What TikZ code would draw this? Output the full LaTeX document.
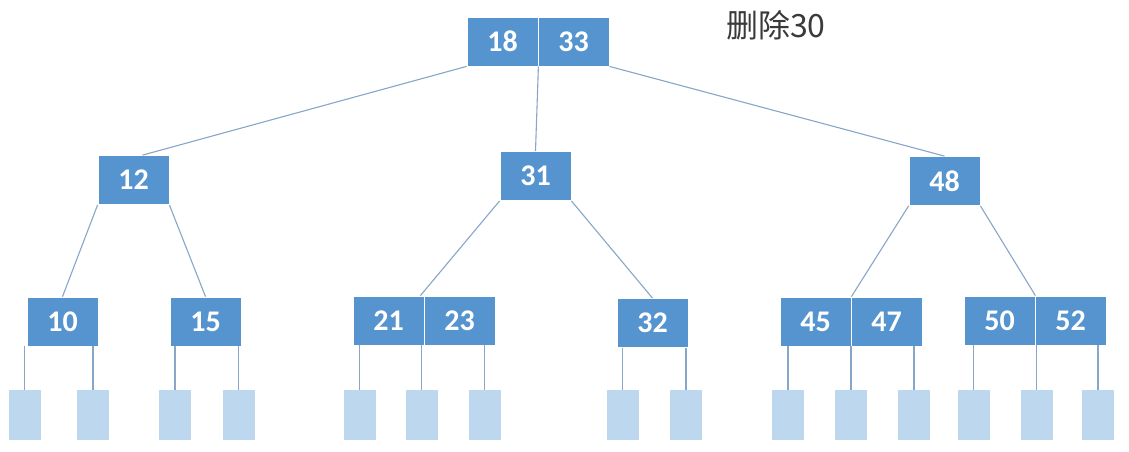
\documentclass[tikz,border=0pt]{standalone}
\usepackage{fontspec}
\setsansfont{Carlito}
\newfontfamily\cjkfont{Noto Sans CJK SC}
\usepackage{tikz}
\usetikzlibrary{
    calc,
    positioning
}

\begin{document}
\begin{tikzpicture}[
    x=1pt, y=-1pt,
    font=\sffamily\bfseries\fontsize{30}{31}\selectfont,
    keybox/.style={
    	fill=my-blue, draw=white, line width=0.8pt, text=white,
    	minimum width=71pt, minimum height=49pt, inner sep=0pt
    }, leafbox/.style={
    	fill=my-light, minimum width=32pt, minimum height=50pt, inner sep=0pt
    }, link/.style={
    	draw=my-line, line width=1.1pt
    }]
    \definecolor{my-blue}{RGB}{86, 148, 207}
    \definecolor{my-light}{RGB}{189, 215, 238}
    \definecolor{my-line}{RGB}{136, 166, 200}
    \definecolor{my-text}{RGB}{58, 58, 58}

    \fill[white] (0,0) rectangle (1129,452);
    \useasboundingbox (0,0) rectangle (1129,452);

    \node[anchor=west, inner sep=0pt, text=my-text, font=\cjkfont\fontsize{32}{34}\selectfont] (title) at (726,25) {删除30};

    %%% root
    \node[keybox] (n18) at (502.5,41.5) {18};
    \node[keybox] (n33) at (573.5,41.5) {33};

    %%% level 2
    \node[keybox] (n12) at (133.5,180) {12};
    \node[keybox] (n31) at (535.5,176) {31};
    \node[keybox] (n48) at (944.5,181) {48};

    %%% level 3
    \node[keybox] (n10) at (62.5,321.5) {10};
    \node[keybox] (n15) at (205.5,321.5) {15};
    \node[keybox] (n21) at (388.5,320.5) {21};
    \node[keybox] (n23) at (459.5,320.5) {23};
    \node[keybox] (n32) at (652.5,323) {32};
    \node[keybox] (n45) at (815.5,321.5) {45};
    \node[keybox] (n47) at (886.5,321.5) {47};
    \node[keybox] (n50) at (999.5,320.5) {50};
    \node[keybox] (n52) at (1070.5,320.5) {52};

    %%% leaves
    \node[leafbox] (l1) at (24.5,415) {};
    \node[leafbox] (l2) at (93,415) {};
    \node[leafbox] (l3) at (175,415) {};
    \node[leafbox] (l4) at (238.5,415) {};
    \node[leafbox] (l5) at (359.5,415) {};
    \node[leafbox] (l6) at (421.5,415) {};
    \node[leafbox] (l7) at (484.5,415) {};
    \node[leafbox] (l8) at (622.5,415) {};
    \node[leafbox] (l9) at (686,415) {};
    \node[leafbox] (l10) at (788,415) {};
    \node[leafbox] (l11) at (851,415) {};
    \node[leafbox] (l12) at (914,415) {};
    \node[leafbox] (l13) at (973.5,415) {};
    \node[leafbox] (l14) at (1036.5,415) {};
    \node[leafbox] (l15) at (1098,415) {};

    %%% EDGES
    \draw[link] (n18.south west) -- (n12.70);
    \draw[link] (n18.south east) -- (n31.north);
    \draw[link] (n33.south east) -- (n48.north);

    \draw[link] (n12.south west) -- (n10.north);
    \draw[link] (n12.south east) -- (n15.north);
    \draw[link] (n31.south west) -- ($(n21.north east)+(-4,0)$);
    \draw[link] (n31.south east) -- (n32.north);
    \draw[link] (n48.south west) -- (n45.north east);
    \draw[link] (n48.south east) -- (n50.north east);

    \draw[link] (l1.north) -- (l1.north |- n10.south);
    \draw[link] (l2.north) -- (l2.north |- n10.south);
    \draw[link] (l3.north) -- (l3.north |- n15.south);
    \draw[link] (l4.north) -- (l4.north |- n15.south);
    \draw[link] (l5.north) -- (l5.north |- n21.south);
    \draw[link] (l6.north) -- (l6.north |- n21.south);
    \draw[link] (l7.north) -- (l7.north |- n23.south);
    \draw[link] (l8.north) -- (l8.north |- n32.south);
    \draw[link] (l9.north) -- (l9.north |- n32.south);
    \draw[link] (l10.north) -- (l10.north |- n45.south);
    \draw[link] (l11.north) -- (l11.north |- n45.south);
    \draw[link] (l12.north) -- (l12.north |- n47.south);
    \draw[link] (l13.north) -- (l13.north |- n50.south);
    \draw[link] (l14.north) -- (l14.north |- n50.south);
    \draw[link] (l15.north) -- (l15.north |- n52.south);
    %%% EDGES

\end{tikzpicture}
\end{document}
